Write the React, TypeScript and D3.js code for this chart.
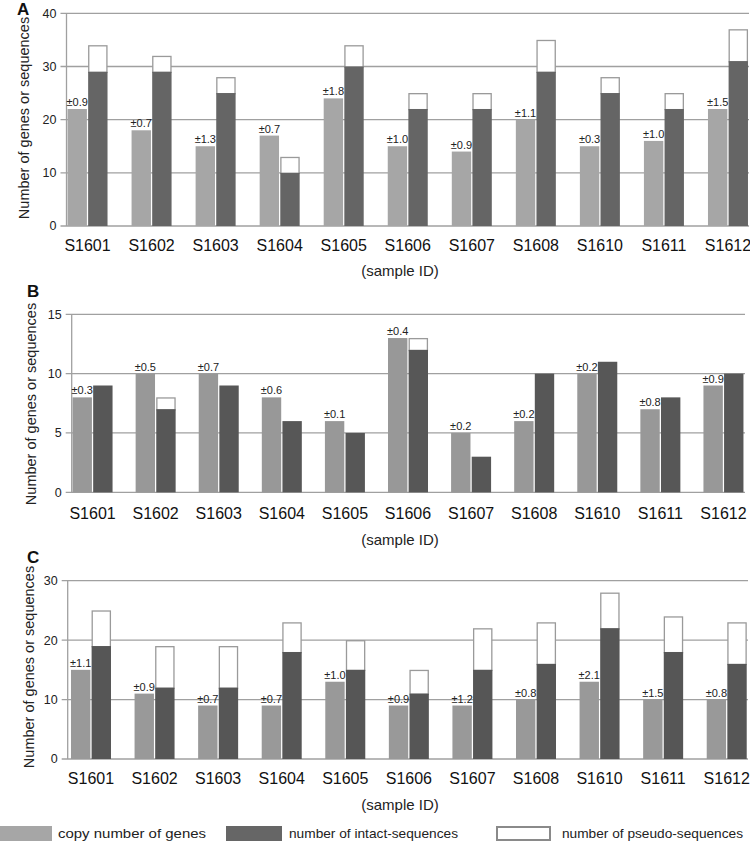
import React from "react";
import * as d3 from "d3";

const categories = ["S1601","S1602","S1603","S1604","S1605","S1606","S1607","S1608","S1610","S1611","S1612"];

const copyA = [22,18,15,17,24,15,14,20,15,16,22];
const intactA = [29,29,25,10,30,22,22,29,25,22,31];
const totalA = [34,32,28,13,34,25,25,35,28,25,37];
const errA = ["±0.9","±0.7","±1.3","±0.7","±1.8","±1.0","±0.9","±1.1","±0.3","±1.0","±1.5"];

const copyB = [8,10,10,8,6,13,5,6,10,7,9];
const intactB = [9,7,9,6,5,12,3,10,11,8,10];
const totalB = [9,8,9,6,5,13,3,10,11,8,10];
const errB = ["±0.3","±0.5","±0.7","±0.6","±0.1","±0.4","±0.2","±0.2","±0.2","±0.8","±0.9"];

const copyC = [15,11,9,9,13,9,9,10,13,10,10];
const intactC = [19,12,12,18,15,11,15,16,22,18,16];
const totalC = [25,19,19,23,20,15,22,23,28,24,23];
const errC = ["±1.1","±0.9","±0.7","±0.7","±1.0","±0.9","±1.2","±0.8","±2.1","±1.5","±0.8"];

const yTitle = "Number of genes or sequences";
const xTitle = "(sample ID)";
const legendLabels = ["copy number of genes","number of intact-sequences","number of pseudo-sequences"];

const FONT = "'Liberation Sans', Arial, sans-serif";

type Panel = {
  letter: string; copy: number[]; intact: number[]; total: number[]; err: string[];
  max: number; step: number; top: number; bottom: number; axisX: number; right: number;
  xr: [number, number]; titleX: number; titleY: number; letterX: number; letterY: number;
  catY: number; sampleY: number; light: string; dark: string;
};

const panels: Panel[] = [
  { letter: "A", copy: copyA, intact: intactA, total: totalA, err: errA, max: 40, step: 10,
    top: 13.3, bottom: 226, axisX: 66.5, right: 749, xr: [55.5, 760], titleX: 24, titleY: 118,
    letterX: 17, letterY: 15, catY: 245, sampleY: 271, light: "#a6a6a6", dark: "#656565" },
  { letter: "B", copy: copyB, intact: intactB, total: totalB, err: errB, max: 15, step: 5,
    top: 314.3, bottom: 492.3, axisX: 71.7, right: 745, xr: [61, 755], titleX: 31, titleY: 404,
    letterX: 27, letterY: 297, catY: 513, sampleY: 540, light: "#989898", dark: "#575757" },
  { letter: "C", copy: copyC, intact: intactC, total: totalC, err: errC, max: 30, step: 10,
    top: 580.7, bottom: 759, axisX: 67.7, right: 748, xr: [59.2, 758.5], titleX: 29, titleY: 667,
    letterX: 27, letterY: 563, catY: 778, sampleY: 805, light: "#999999", dark: "#565656" },
];

function PanelChart({ p }: { p: Panel }) {
  const x = d3.scaleBand<string>().domain(categories).range(p.xr).paddingInner(0).paddingOuter(0);
  const sub = d3.scaleBand<string>().domain(["copy", "intact"]).range([0, 40]).paddingInner(0.06);
  const y = d3.scaleLinear().domain([0, p.max]).range([p.bottom, p.top]);
  const ticks = d3.range(0, p.max + 0.001, p.step);
  const bw = sub.bandwidth();
  return (
    <g>
      <text x={p.letterX} y={p.letterY} fontFamily={FONT} fontWeight="bold" fontSize={17} fill="#111">{p.letter}</text>
      {ticks.map((t) => (
        <g key={t}>
          <line x1={p.axisX - 6} x2={p.right} y1={y(t)} y2={y(t)} stroke="#a0a0a0" strokeWidth={1.3} />
          <text x={p.axisX - 10} y={y(t)} dy="0.35em" textAnchor="end" fontFamily={FONT} fontSize={12.5} fill="#222">{t}</text>
        </g>
      ))}
      <line x1={p.axisX} x2={p.axisX} y1={p.top} y2={p.bottom} stroke="#a0a0a0" strokeWidth={1.3} />
      {categories.map((c, i) => {
        const cx = (x(c) as number) + x.bandwidth() / 2;
        const gx = cx - 20;
        const lx = gx + (sub("copy") as number);
        const dx = gx + (sub("intact") as number);
        return (
          <g key={c}>
            <rect x={lx} y={y(p.copy[i])} width={bw} height={p.bottom - y(p.copy[i])} fill={p.light} />
            {p.total[i] > p.intact[i] && (
              <rect x={dx + 0.6} y={y(p.total[i]) + 0.6} width={bw - 1.2} height={y(p.intact[i]) - y(p.total[i])}
                fill="#ffffff" stroke="#9a9a9a" strokeWidth={1.3} />
            )}
            <rect x={dx} y={y(p.intact[i])} width={bw} height={p.bottom - y(p.intact[i])} fill={p.dark} />
            <text x={lx + bw / 2} y={y(p.copy[i]) - 3} textAnchor="middle" fontFamily={FONT} fontSize={11} fill="#222">{p.err[i]}</text>
            <text x={cx} y={p.catY} dy="0.35em" textAnchor="middle" fontFamily={FONT} fontSize={16} fill="#111">{c}</text>
          </g>
        );
      })}
      <text transform={`translate(${p.titleX},${p.titleY}) rotate(-90)`} dy="0.35em" textAnchor="middle" fontFamily={FONT} fontSize={14.5} fill="#222">{yTitle}</text>
      <text x={400} y={p.sampleY} dy="0.35em" textAnchor="middle" fontFamily={FONT} fontSize={15} fill="#222">{xTitle}</text>
    </g>
  );
}

export default function App() {
  const legend = [
    { sx: 0, sw: 52, tx: 58, tw: 148, fill: "#a6a6a6", stroke: "none" },
    { sx: 226, sw: 56, tx: 289, tw: 169, fill: "#666666", stroke: "none" },
    { sx: 496, sw: 55, tx: 562, tw: 181, fill: "#ffffff", stroke: "#8a8a8a" },
  ];
  const ly = 826;
  return (
    <svg width={750} height={844} style={{ position: "absolute", left: 0, top: 0, background: "#fff" }}>
      <rect x={0} y={0} width={750} height={844} fill="#fff" />
      {panels.map((p) => <PanelChart key={p.letter} p={p} />)}
      {legend.map((l, i) => (
        <g key={i}>
          <rect x={l.sx + (l.stroke === "none" ? 0 : 1)} y={ly + (l.stroke === "none" ? 0 : 1)} width={l.sw - (l.stroke === "none" ? 0 : 2)} height={15 - (l.stroke === "none" ? 0 : 2)}
            fill={l.fill} stroke={l.stroke} strokeWidth={2} />
          <text x={l.tx} y={ly + 7.5} dy="0.35em" fontFamily={FONT} fontSize={13.6} textLength={l.tw} lengthAdjust="spacingAndGlyphs" fill="#222">{legendLabels[i]}</text>
        </g>
      ))}
    </svg>
  );
}
